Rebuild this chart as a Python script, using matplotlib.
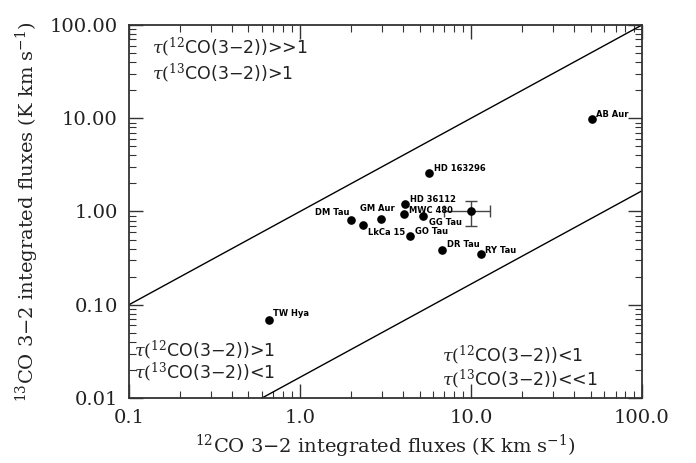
import matplotlib
matplotlib.use("Agg")
import matplotlib.pyplot as plt
import numpy as np
from matplotlib.ticker import FixedLocator, FixedFormatter, LogLocator, NullFormatter

plt.rcParams["mathtext.fontset"] = "dejavuserif"

# 12CO and 13CO 3-2 integrated fluxes (K km/s)
names = ["TW Hya", "DM Tau", "LkCa 15", "GM Aur", "HD 36112", "MWC 480",
         "GG Tau", "GO Tau", "HD 163296", "DR Tau", "RY Tau", "AB Aur"]
f12 = [0.66, 2.0, 2.33, 2.96, 4.1, 4.05, 5.25, 4.4, 5.7, 6.75, 11.4, 51.0]
f13 = [0.069, 0.82, 0.71, 0.84, 1.21, 0.94, 0.90, 0.54, 2.56, 0.39, 0.35, 9.9]
# label offsets in pixels (dx, dy, ha)
label_off = [(4, 6, "left"), (-2, 7, "right"), (5, -7, "left"), (-3, 10, "center"),
             (5, 4, "left"), (5, 4, "left"), (6, -7, "left"), (5, 5, "left"),
             (5, 5, "left"), (5, 5, "left"), (4, 4, "left"), (4, 4, "left")]

# representative error bar (30%)
err_x, err_y = 10.0, 1.0
err_dx, err_dy = 3.0, 0.3

# limit lines: 13CO = 12CO and 13CO = 12CO / 60
line_x = [0.1, 100.0]
ratio_upper = 1.0
ratio_lower = 1.0 / 60.0

fig = plt.figure(figsize=(6.96, 4.63), dpi=100)
ax = fig.add_axes([0.1853, 0.1404, 0.7371, 0.8056])
ax.set_xscale("log")
ax.set_yscale("log")
ax.set_xlim(0.1, 100)
ax.set_ylim(0.01, 100)

lx = np.array(line_x)
ax.plot(lx, lx * ratio_upper, color="black", lw=1.0)
ax.plot(lx, lx * ratio_lower, color="black", lw=1.0)

ax.plot(f12, f13, "o", color="black", ms=5.2, zorder=3)
ax.errorbar([err_x], [err_y], xerr=[err_dx], yerr=[err_dy], fmt="o", color="black",
            ms=5.2, ecolor="#444444", elinewidth=1.0, capsize=4, zorder=3)

for n, x, y, (dx, dy, ha) in zip(names, f12, f13, label_off):
    ax.annotate(n, (x, y), xytext=(dx, dy), textcoords="offset pixels",
                ha=ha, va="center", fontsize=6, fontweight="bold",
                family="DejaVu Sans")

tfs = 12.5
corner = [
    (0.045, 0.94, r"$\tau(^{12}$CO(3$-$2))>>1"),
    (0.045, 0.87, r"$\tau(^{13}$CO(3$-$2))>1"),
    (0.01, 0.128, r"$\tau(^{12}$CO(3$-$2))>1"),
    (0.01, 0.068, r"$\tau(^{13}$CO(3$-$2))<1"),
    (0.61, 0.115, r"$\tau(^{12}$CO(3$-$2))<1"),
    (0.61, 0.05, r"$\tau(^{13}$CO(3$-$2))<<1"),
]
for tx, ty, s in corner:
    ax.text(tx, ty, s, transform=ax.transAxes, fontsize=tfs, va="center",
            ha="left", color="#222222", family="DejaVu Sans")

xt = [0.1, 1.0, 10.0, 100.0]
yt = [0.01, 0.1, 1.0, 10.0, 100.0]
ax.xaxis.set_major_locator(FixedLocator(xt))
ax.xaxis.set_major_formatter(FixedFormatter(["0.1", "1.0", "10.0", "100.0"]))
ax.yaxis.set_major_locator(FixedLocator(yt))
ax.yaxis.set_major_formatter(FixedFormatter(["0.01", "0.10", "1.00", "10.00", "100.00"]))
for a in (ax.xaxis, ax.yaxis):
    a.set_minor_locator(LogLocator(base=10, subs=np.arange(2, 10)))
    a.set_minor_formatter(NullFormatter())

ax.tick_params(which="both", direction="in", top=True, right=True, color="#333333")
ax.tick_params(which="major", length=10, width=1.0, labelsize=14, pad=8)
ax.tick_params(which="minor", length=5, width=0.8)
for lab in ax.get_xticklabels() + ax.get_yticklabels():
    lab.set_family("DejaVu Serif")
    lab.set_color("#222222")
for s in ax.spines.values():
    s.set_color("#333333")
    s.set_linewidth(1.3)

ax.set_xlabel(r"$^{12}$CO 3$-$2 integrated fluxes (K km s$^{-1}$)",
              family="DejaVu Serif", fontsize=14, labelpad=4, color="#222222")
ax.set_ylabel(r"$^{13}$CO 3$-$2 integrated fluxes (K km s$^{-1}$)",
              family="DejaVu Serif", fontsize=14, labelpad=6, color="#222222")

fig.savefig("out.png", dpi=100)
